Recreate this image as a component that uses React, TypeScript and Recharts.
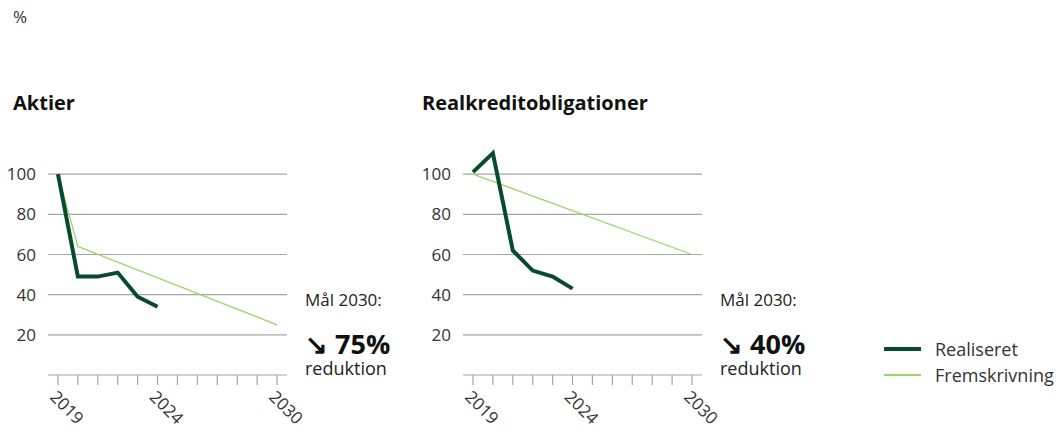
import React from 'react';
import { LineChart, Line, XAxis, YAxis, ReferenceLine } from 'recharts';

const YEARS = [2019, 2020, 2021, 2022, 2023, 2024, 2025, 2026, 2027, 2028, 2029, 2030];
const LABELLED_YEARS = [2019, 2024, 2030];
const Y_TICKS = [20, 40, 60, 80, 100];

// Aktier
const AKTIER_REALISERET = [100, 49, 49, 51, 39, 34, null, null, null, null, null, null];
const AKTIER_FREMSKRIVNING = [100, 64, null, null, null, null, null, null, null, null, null, 25];

// Realkreditobligationer
const REAL_REALISERET = [101, 110.5, 62, 52, 49, 43, null, null, null, null, null, null];
const REAL_FREMSKRIVNING = [100, null, null, null, null, null, null, null, null, null, null, 60];

const DARK = '#0a4a2c';
const LIGHT = '#9fd46e';
const GRID = '#a6a6a6';
const FONT = '"Open Sans", sans-serif';

const buildRows = (realiseret: (number | null)[], fremskrivning: (number | null)[]) =>
  YEARS.map((year, i) => ({ year, realiseret: realiseret[i], fremskrivning: fremskrivning[i] }));

const YearTick = (props: any) => {
  const { x, y, payload } = props;
  if (!LABELLED_YEARS.includes(payload.value)) return <g />;
  return (
    <text
      transform={`translate(${x - 9},${y + 11}) rotate(45)`}
      textAnchor="start"
      fill="#333"
      fontSize={17}
      fontFamily={FONT}
    >
      {payload.value}
    </text>
  );
};

interface PanelProps {
  title: string;
  titleLeft: number;
  left: number;
  realiseret: (number | null)[];
  fremskrivning: (number | null)[];
  goal: string;
}

const Panel: React.FC<PanelProps> = ({ title, titleLeft, left, realiseret, fremskrivning, goal }) => {
  const data = buildRows(realiseret, fremskrivning);
  return (
    <>
      <div
        style={{
          position: 'absolute',
          left: titleLeft,
          top: 89,
          fontSize: 20,
          fontWeight: 700,
          color: '#111',
          whiteSpace: 'nowrap',
        }}
      >
        {title}
      </div>
      <div style={{ position: 'absolute', left, top: 130 }}>
        <LineChart
          width={330}
          height={297}
          data={data}
          margin={{ top: 4, right: 43, bottom: 0, left: 0 }}
          style={{ overflow: 'visible' }}
        >
          <XAxis
            dataKey="year"
            type="number"
            domain={[2018.5, 2030.5]}
            ticks={YEARS}
            interval={0}
            height={52}
            tickSize={10}
            axisLine={{ stroke: GRID, strokeWidth: 1.2 }}
            tickLine={{ stroke: GRID, strokeWidth: 1.2 }}
            tick={<YearTick />}
          />
          <YAxis
            domain={[0, 120]}
            ticks={Y_TICKS}
            width={48}
            axisLine={false}
            tickLine={false}
            tickSize={0}
            tickMargin={12}
            tick={{ fill: '#333', fontSize: 17, fontFamily: FONT }}
          />
          {Y_TICKS.map((t) => (
            <ReferenceLine key={t} y={t} stroke={GRID} strokeWidth={1.2} />
          ))}
          <Line
            dataKey="fremskrivning"
            stroke={LIGHT}
            strokeWidth={1.3}
            dot={false}
            connectNulls
            isAnimationActive={false}
          />
          <Line
            dataKey="realiseret"
            stroke={DARK}
            strokeWidth={4}
            dot={false}
            strokeLinejoin="miter"
            isAnimationActive={false}
          />
        </LineChart>
      </div>
      <div style={{ position: 'absolute', left: left + 305, top: 290, color: '#222' }}>
        <div style={{ fontSize: 17, lineHeight: '20px' }}>Mål 2030:</div>
        <div style={{ fontSize: 27, fontWeight: 700, lineHeight: '27px', marginTop: 20, color: '#111' }}>
          ↘ {goal}
        </div>
        <div style={{ fontSize: 18, lineHeight: '20px', marginTop: 1 }}>reduktion</div>
      </div>
    </>
  );
};

export default function App() {
  return (
    <div
      style={{
        position: 'absolute',
        left: 0,
        top: 0,
        width: 1056,
        height: 427,
        overflow: 'hidden',
        background: '#fff',
        fontFamily: FONT,
      }}
    >
      <div style={{ position: 'absolute', left: 13, top: 5, fontSize: 17, color: '#333' }}>%</div>
      <Panel
        title="Aktier"
        titleLeft={13}
        left={0}
        realiseret={AKTIER_REALISERET}
        fremskrivning={AKTIER_FREMSKRIVNING}
        goal="75%"
      />
      <Panel
        title="Realkreditobligationer"
        titleLeft={422}
        left={415}
        realiseret={REAL_REALISERET}
        fremskrivning={REAL_FREMSKRIVNING}
        goal="40%"
      />
      <div style={{ position: 'absolute', left: 884, top: 336, fontSize: 18, color: '#333' }}>
        <div style={{ display: 'flex', alignItems: 'center', height: 26 }}>
          <span style={{ width: 37, height: 4, background: DARK, marginRight: 14 }} />
          Realiseret
        </div>
        <div style={{ display: 'flex', alignItems: 'center', height: 26 }}>
          <span style={{ width: 37, height: 1.5, background: LIGHT, marginRight: 14 }} />
          Fremskrivning
        </div>
      </div>
    </div>
  );
}
